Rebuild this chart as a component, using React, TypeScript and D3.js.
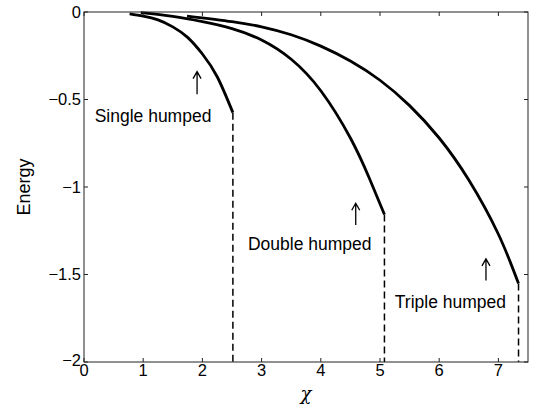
import React from 'react';
import * as d3 from 'd3';

// axis ticks
const chiTicks = [0, 1, 2, 3, 4, 5, 6, 7];
const energyTicks = [0, -0.5, -1, -1.5, -2];

// branches
const singleChi = [0.77, 1.0, 1.25, 1.5, 1.75, 2.0, 2.25, 2.515];
const singleEnergy = [-0.011, -0.024, -0.045, -0.085, -0.145, -0.24, -0.37, -0.575];

const doubleChi = [0.96, 1.5, 2.0, 2.5, 3.0, 3.5, 4.0, 4.5, 4.82, 5.075];
const doubleEnergy = [-0.004, -0.025, -0.055, -0.095, -0.16, -0.27, -0.45, -0.72, -0.95, -1.157];

const tripleChi = [1.74, 2.5, 3.0, 3.5, 4.0, 4.5, 5.0, 5.5, 6.0, 6.5, 7.0, 7.34];
const tripleEnergy = [-0.023, -0.055, -0.085, -0.13, -0.195, -0.28, -0.39, -0.535, -0.72, -0.96, -1.27, -1.552];

// annotations
const labelText = ['Single humped', 'Double humped', 'Triple humped'];
const labelChi = [0.18, 2.77, 5.25];
const labelEnergy = [-0.629, -1.36, -1.693];
const arrowChi = [1.91, 4.59, 6.79];
const arrowTop = [-0.341, -1.093, -1.411];
const arrowBottom = [-0.47, -1.217, -1.534];

const W = 537;
const H = 408;
const margin = { top: 12, right: 9, bottom: 46, left: 84 };

const App = () => {
  const x = d3.scaleLinear().domain([0, 7.5]).range([margin.left, W - margin.right]);
  const y = d3.scaleLinear().domain([-2, 0]).range([H - margin.bottom, margin.top]);

  const branches = [
    { chi: singleChi, energy: singleEnergy },
    { chi: doubleChi, energy: doubleEnergy },
    { chi: tripleChi, energy: tripleEnergy },
  ];

  const line = d3.line<number>()
    .x((d) => x(d[0]))
    .y((d) => y(d[1]))
    .curve(d3.curveNatural);

  const font = 'Liberation Sans, Arial, Helvetica, sans-serif';
  const x0 = x(0), x1 = x(7.5), y0 = y(-2), y1 = y(0);

  return (
    <svg width={W} height={H} style={{ position: 'absolute', left: 0, top: 0, background: '#fff' }}
      fontFamily={font}>
      {/* curves */}
      {branches.map((b, i) => {
        const pts = b.chi.map((c, j) => [c, b.energy[j]]);
        const last = pts[pts.length - 1];
        return (
          <g key={i}>
            <path d={line(pts as any) || ''} fill="none" stroke="#000" strokeWidth={2.8} strokeLinecap="butt" />
            <line x1={x(last[0])} x2={x(last[0])} y1={y(last[1])} y2={y(-2)}
              stroke="#000" strokeWidth={1.5} strokeDasharray="7,4" />
          </g>
        );
      })}

      {/* annotations */}
      {labelText.map((t, i) => (
        <g key={t}>
          <text x={x(labelChi[i])} y={y(labelEnergy[i])} fontSize={17.5}>{t}</text>
          <path
            d={`M${x(arrowChi[i])},${y(arrowBottom[i])}V${y(arrowTop[i])}` +
              `M${x(arrowChi[i]) - 4},${y(arrowTop[i]) + 7}L${x(arrowChi[i])},${y(arrowTop[i])}L${x(arrowChi[i]) + 4},${y(arrowTop[i]) + 7}`}
            fill="none" stroke="#000" strokeWidth={1.3} />
        </g>
      ))}

      {/* box */}
      <rect x={x0} y={y1} width={x1 - x0} height={y0 - y1} fill="none" stroke="#222" strokeWidth={1} />

      {/* x ticks */}
      {chiTicks.map((t) => (
        <g key={'x' + t}>
          <line x1={x(t)} x2={x(t)} y1={y0} y2={y0 - 4} stroke="#222" />
          <line x1={x(t)} x2={x(t)} y1={y1} y2={y1 + 4} stroke="#222" />
          <text x={x(t)} y={y0 + 13.5} fontSize={16.5} textAnchor="middle">{t}</text>
        </g>
      ))}

      {/* y ticks */}
      {energyTicks.map((t) => (
        <g key={'y' + t}>
          <line x1={x0} x2={x0 + 4} y1={y(t)} y2={y(t)} stroke="#222" />
          <line x1={x1} x2={x1 - 4} y1={y(t)} y2={y(t)} stroke="#222" />
          <text x={x0 - 3} y={y(t) - (t === -2 ? 2 : 0)} dy="0.36em" fontSize={16.5} textAnchor="end">
            {t === 0 ? '0' : '\u2212' + String(Math.abs(t))}
          </text>
        </g>
      ))}

      {/* axis labels */}
      <text x={(x0 + x1) / 2} y={400} fontSize={18} textAnchor="middle" fontStyle="italic"
        fontFamily="DejaVu Serif, serif">χ</text>
      <text transform={`translate(30,${(y0 + y1) / 2}) rotate(-90)`} fontSize={18} textAnchor="middle">Energy</text>
    </svg>
  );
};

export default App;
